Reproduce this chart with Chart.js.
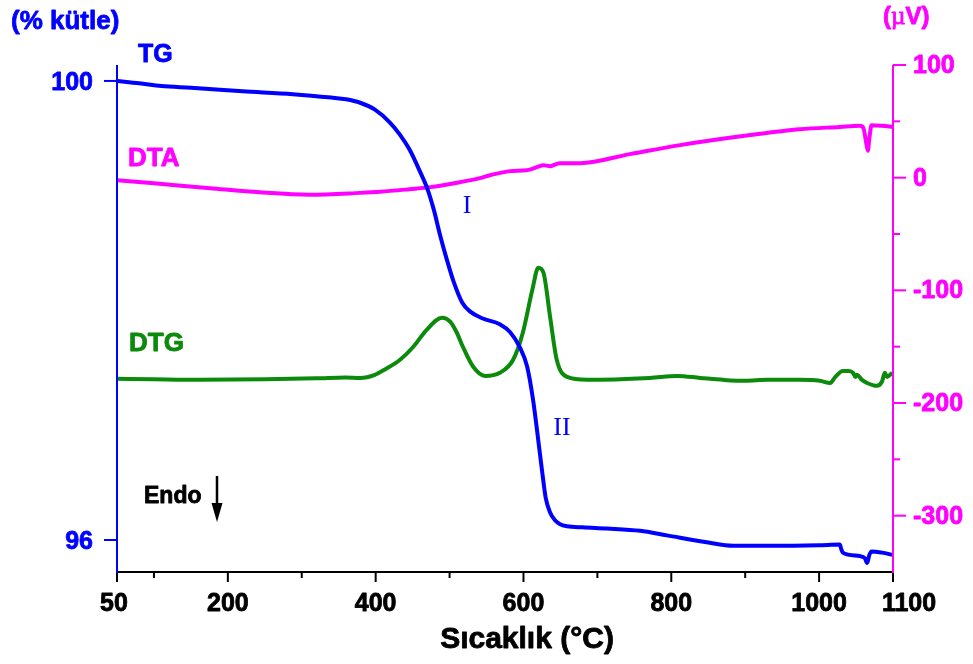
<!DOCTYPE html>
<html>
<head>
<meta charset="utf-8">
<script src="https://cdn.jsdelivr.net/npm/chart.js@4.4.1/dist/chart.umd.min.js"></script>
<style>
  html, body { margin:0; padding:0; background:#fff; }
  #wrap { width:973px; height:664px; position:relative; }
</style>
</head>
<body>
<div id="wrap"><canvas id="c"></canvas></div>
<script>
// TG (% kütle) vs temperature
const TG_T = [50, 80, 110, 150, 220, 288, 340, 360, 379, 399, 419, 433, 446, 460, 470, 479, 487, 496, 505, 517, 528, 545, 568, 582, 595, 605, 613, 620, 625, 630, 636, 643, 649, 659, 680, 713, 758, 794, 848, 884, 938, 1000, 1028, 1030, 1032, 1055, 1062, 1065, 1068, 1071, 1085, 1100];
const TG_V = [100.00, 99.98, 99.955, 99.94, 99.91, 99.885, 99.855, 99.84, 99.81, 99.75, 99.64, 99.53, 99.40, 99.21, 99.06, 98.87, 98.66, 98.45, 98.26, 98.07, 97.99, 97.93, 97.88, 97.81, 97.68, 97.51, 97.22, 96.87, 96.61, 96.37, 96.24, 96.17, 96.14, 96.12, 96.11, 96.10, 96.08, 96.04, 95.98, 95.95, 95.95, 95.955, 95.96, 95.92, 95.89, 95.86, 95.84, 95.80, 95.87, 95.90, 95.89, 95.87];

// DTA (µV)
const DTA_T = [50, 100, 176, 243, 311, 379, 406, 446, 474, 510, 541, 555, 582, 605, 618, 627, 636, 649, 677, 744, 812, 907, 974, 1028, 1055, 1060, 1064, 1066, 1068, 1071, 1085, 1100];
const DTA_V = [-2.2, -5, -9.3, -13, -15.2, -13.5, -12.5, -10.2, -8.4, -4.5, -0.4, 2.2, 5.8, 6.7, 9.3, 11.1, 10.2, 12.9, 12.9, 20.9, 28.9, 37.8, 43, 45, 46, 44, 30, 24, 35, 46.5, 46, 45];

// DTG (arbitrary units, no axis shown)
const DTG_T = [50, 100, 162, 250, 320, 359, 379, 399, 413, 433, 451, 469, 490, 501, 510, 518, 532, 548, 568, 586, 599, 612, 620, 627, 636, 645, 659, 686, 771, 808, 839, 870, 900, 930, 974, 1001, 1015, 1022, 1032, 1040, 1046, 1049, 1051, 1058, 1065, 1078, 1085, 1089, 1092, 1099];
const DTG_V = [0, -0.002, -0.004, -0.002, 0.002, 0.006, 0.004, 0.017, 0.04, 0.079, 0.133, 0.203, 0.253, 0.236, 0.19, 0.133, 0.05, 0.012, 0.025, 0.079, 0.19, 0.369, 0.46, 0.44, 0.257, 0.079, 0.008, -0.004, 0.004, 0.012, 0.004, -0.004, -0.008, -0.004, -0.004, -0.008, -0.017, 0.008, 0.033, 0.033, 0.025, 0.008, 0.017, -0.004, -0.017, -0.029, -0.012, 0.025, 0.008, 0.025];

// axis ticks
const X_MAJOR = [50, 200, 400, 600, 800, 1000, 1100];
const X_MINOR = [100, 300, 500, 700, 900];
const TG_TICKS = [100, 96];
const DTA_MAJOR = [100, 0, -100, -200, -300];
const DTA_MINOR = [50, -50, -150, -250];

const BLUE = '#0000ff', MAG = '#ff00ff', GREEN = '#0b8a0b';
const SANS = '"Liberation Sans", Arial, sans-serif';
const SERIF = '"Liberation Serif", "Times New Roman", serif';

const pts = (t, v) => t.map((x, i) => ({ x: x, y: v[i] }));

// heavy text: fill plus a thin stroke in the same colour
function heavy(ctx, txt, x, y, col) {
  ctx.fillStyle = col; ctx.strokeStyle = col; ctx.lineWidth = 0.8;
  ctx.fillText(txt, x, y); ctx.strokeText(txt, x, y);
}

const axesPlugin = {
  id: 'axesPlugin',
  afterDatasetsDraw(chart) {
    const ctx = chart.ctx, a = chart.chartArea;
    const sx = chart.scales.x, sy = chart.scales.y, sy1 = chart.scales.y1;
    ctx.save();
    ctx.lineCap = 'butt'; ctx.lineJoin = 'round';

    // bottom axis
    ctx.strokeStyle = '#000'; ctx.lineWidth = 2;
    ctx.beginPath(); ctx.moveTo(a.left, a.bottom); ctx.lineTo(a.right, a.bottom); ctx.stroke();
    X_MAJOR.forEach(v => { const p = sx.getPixelForValue(v); ctx.beginPath(); ctx.moveTo(p, a.bottom); ctx.lineTo(p, a.bottom + 10); ctx.stroke(); });
    X_MINOR.forEach(v => { const p = sx.getPixelForValue(v); ctx.beginPath(); ctx.moveTo(p, a.bottom); ctx.lineTo(p, a.bottom + 6); ctx.stroke(); });
    ctx.font = 'bold 25px ' + SANS; ctx.textAlign = 'center'; ctx.textBaseline = 'alphabetic';
    X_MAJOR.forEach(v => {
      let p = sx.getPixelForValue(v);
      if (v === 1100) p += 16;
      if (v === 50) p -= 3;
      heavy(ctx, String(v), p, 611, '#000');
    });
    ctx.font = 'bold 30px ' + SANS;
    heavy(ctx, 'Sıcaklık (°C)', 527, 648, '#000');

    // left axis (TG)
    ctx.strokeStyle = BLUE; ctx.lineWidth = 2;
    ctx.beginPath(); ctx.moveTo(a.left, a.top); ctx.lineTo(a.left, a.bottom + 1); ctx.stroke();
    ctx.font = 'bold 25px ' + SANS; ctx.textAlign = 'right';
    TG_TICKS.forEach(v => {
      const p = sy.getPixelForValue(v);
      ctx.strokeStyle = BLUE; ctx.lineWidth = 2;
      ctx.beginPath(); ctx.moveTo(a.left - 13, p); ctx.lineTo(a.left, p); ctx.stroke();
      heavy(ctx, String(v), 93, p + 9, BLUE);
    });
    ctx.textAlign = 'left';
    ctx.font = 'bold 26px ' + SANS;
    heavy(ctx, '(% kütle)', 11, 29, BLUE);
    ctx.font = 'bold 25px ' + SANS;
    heavy(ctx, 'TG', 138, 62, BLUE);

    // right axis (DTA)
    ctx.strokeStyle = MAG; ctx.lineWidth = 2;
    ctx.beginPath(); ctx.moveTo(a.right, a.top); ctx.lineTo(a.right, a.bottom + 1); ctx.stroke();
    ctx.textAlign = 'left';
    DTA_MAJOR.forEach(v => {
      const p = sy1.getPixelForValue(v);
      ctx.strokeStyle = MAG; ctx.lineWidth = 2;
      ctx.beginPath(); ctx.moveTo(a.right, p); ctx.lineTo(a.right + 13, p); ctx.stroke();
      heavy(ctx, String(v), 913, p + 8, MAG);
    });
    DTA_MINOR.forEach(v => {
      const p = sy1.getPixelForValue(v);
      ctx.strokeStyle = MAG; ctx.lineWidth = 2;
      ctx.beginPath(); ctx.moveTo(a.right, p); ctx.lineTo(a.right + 7, p); ctx.stroke();
    });
    // (µV)
    let x0 = 883;
    ctx.font = 'bold 24px ' + SANS; heavy(ctx, '(', x0, 24, MAG); x0 += ctx.measureText('(').width;
    ctx.font = '25px ' + SERIF; heavy(ctx, 'µ', x0, 24, MAG); x0 += ctx.measureText('µ').width;
    ctx.font = 'bold 24px ' + SANS; heavy(ctx, 'V)', x0, 24, MAG);

    // series labels
    ctx.font = 'bold 26px ' + SANS;
    heavy(ctx, 'DTA', 128, 166, MAG);
    heavy(ctx, 'DTG', 129, 351, GREEN);

    // stage labels
    ctx.fillStyle = BLUE; ctx.font = '26px ' + SERIF; ctx.textAlign = 'center';
    ctx.fillText('I', 467, 213);
    ctx.fillText('II', 562, 435);

    // Endo arrow
    ctx.textAlign = 'left'; ctx.font = 'bold 23px ' + SANS;
    heavy(ctx, 'Endo', 144, 503, '#000');
    ctx.strokeStyle = '#000'; ctx.fillStyle = '#000'; ctx.lineWidth = 2.5;
    ctx.beginPath(); ctx.moveTo(217, 476); ctx.lineTo(217, 508); ctx.stroke();
    ctx.beginPath(); ctx.moveTo(211.5, 503); ctx.lineTo(222.5, 503); ctx.lineTo(217, 522); ctx.closePath(); ctx.fill();

    ctx.restore();
  }
};

new Chart(document.getElementById('c'), {
  type: 'line',
  data: {
    datasets: [
      { label: 'TG', data: pts(TG_T, TG_V), yAxisID: 'y', borderColor: BLUE, borderWidth: 4, pointRadius: 0, cubicInterpolationMode: 'monotone', fill: false },
      { label: 'DTA', data: pts(DTA_T, DTA_V), yAxisID: 'y1', borderColor: MAG, borderWidth: 4, pointRadius: 0, cubicInterpolationMode: 'monotone', fill: false },
      { label: 'DTG', data: pts(DTG_T, DTG_V), yAxisID: 'y2', borderColor: GREEN, borderWidth: 4, pointRadius: 0, cubicInterpolationMode: 'monotone', fill: false }
    ]
  },
  options: {
    responsive: true,
    maintainAspectRatio: false,
    animation: false,
    layout: { padding: { left: 117, right: 80, top: 65, bottom: 92 } },
    plugins: { legend: { display: false }, tooltip: { enabled: false } },
    scales: {
      x: { type: 'linear', min: 50, max: 1100, display: false },
      y: { min: 95.721, max: 100.139, display: false },
      y1: { min: -350, max: 100, display: false },
      y2: { min: -0.8, max: 1.3, display: false }
    }
  },
  plugins: [axesPlugin]
});
</script>
</body>
</html>
